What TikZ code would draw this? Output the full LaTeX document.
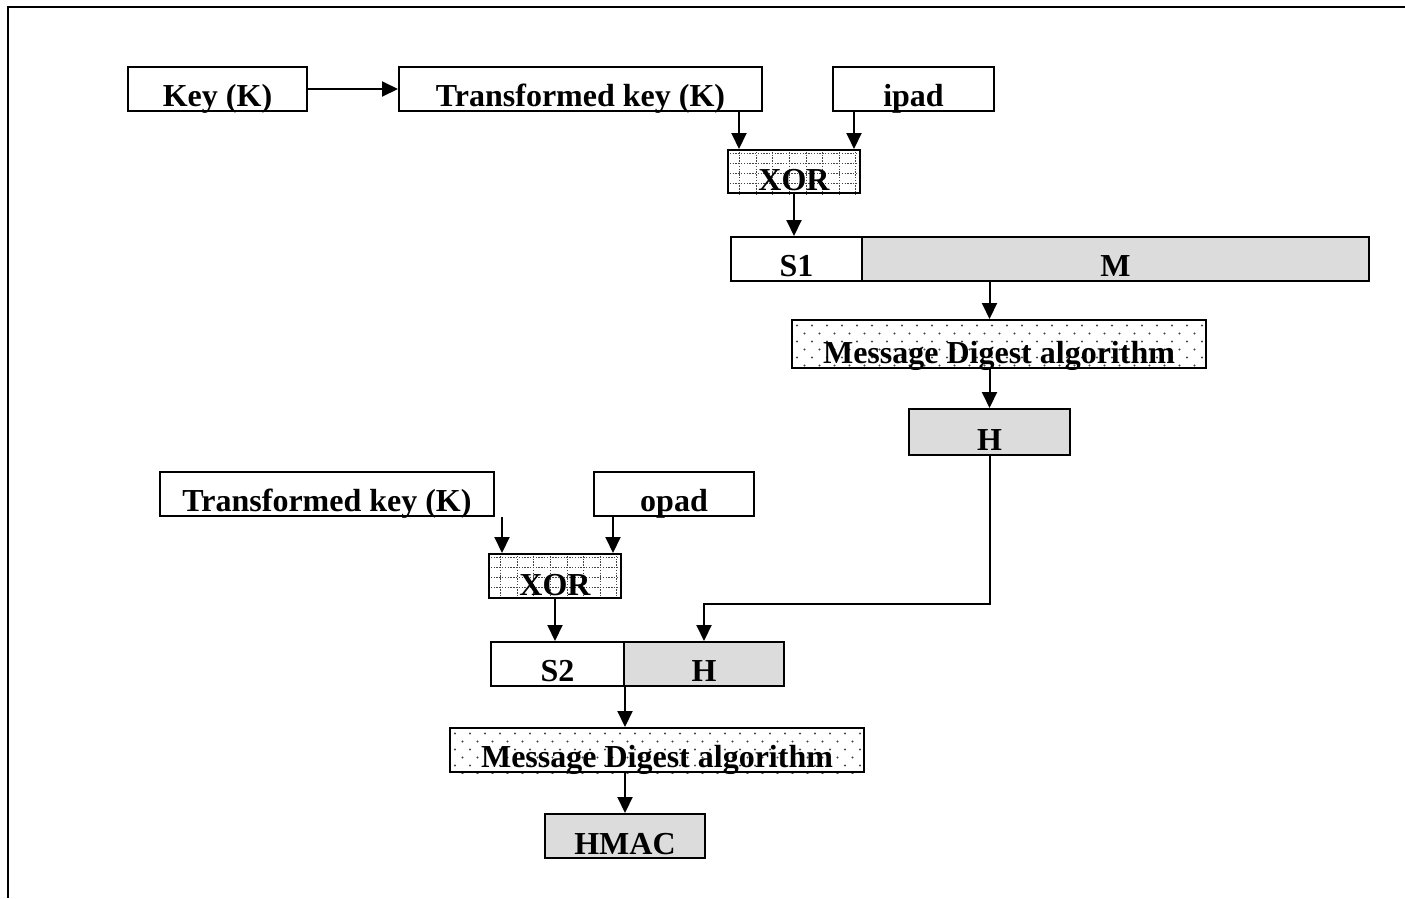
\documentclass[tikz,border=0pt]{standalone}
\usepackage{fontspec}
\setmainfont{Liberation Serif}
\usetikzlibrary{arrows.meta}
\definecolor{boxgray}{HTML}{DCDCDC}
\definecolor{dotgray}{HTML}{444444}
\pgfdeclarelayer{background}
\pgfsetlayers{background,main}
\tikzset{
  blk/.style={draw, line width=2pt, inner sep=0pt, align=center,
    font=\fontsize{32}{32}\selectfont\bfseries,
    text height=39pt, text depth=5pt},
  shaded/.style={fill=boxgray},
  arr/.style={line width=2pt, -{Triangle[length=16pt,width=15pt]}},
  griddot/.style={line width=1pt, dotgray, dash pattern=on 1.3pt off 1.5pt},
  frame/.style={line width=2.2pt}
}
\begin{document}
\begin{tikzpicture}[x=1pt,y=-1pt]
  \useasboundingbox (0,0) rectangle (1405,898);
  % outer frame, open towards the right and bottom
  \draw[frame] (8,898) -- (8,7) -- (1405,7);

  % ---- inner hash ----
  \node[blk, minimum width=179pt] (key)  at (217.5,89)  {Key (K)};
  \node[blk, minimum width=363pt] (tk1)  at (580.5,89)  {Transformed key (K)};
  \node[blk, minimum width=161pt] (ipad) at (913.5,89)  {ipad};
  \node[blk, minimum width=132pt, text height=40pt, text depth=3pt] (xor1) at (794,171.5) {XOR};
  \node[blk, minimum width=131pt] (s1)   at (796.5,259) {S1};
  \node[blk, shaded, minimum width=507pt] (m) at (1115.5,259) {M};
  \node[blk, minimum width=414pt, text height=43pt, text depth=5pt] (md1) at (999,344) {Message Digest algorithm};
  \node[blk, shaded, minimum width=161pt, text height=41.5pt, text depth=4.5pt] (h1) at (989.5,432) {H};

  % ---- outer hash ----
  \node[blk, minimum width=334pt] (tk2)  at (327,494)   {Transformed key (K)};
  \node[blk, minimum width=160pt] (opad) at (674,494)   {opad};
  \node[blk, minimum width=132pt, text height=41pt, text depth=3pt] (xor2) at (555,576) {XOR};
  \node[blk, minimum width=133pt] (s2)   at (557.5,664) {S2};
  \node[blk, shaded, minimum width=160pt] (h2) at (704,664) {H};
  \node[blk, minimum width=414pt] (md2)  at (657,750)   {Message Digest algorithm};
  \node[blk, shaded, minimum width=160pt, text height=40pt, text depth=4pt] (hmac) at (625,836) {HMAC};

  % ---- fill patterns behind the text ----
  \begin{pgfonlayer}{background}
    \foreach \n in {xor1,xor2} {
      \begin{scope}
        \clip (\n.south west) rectangle (\n.north east);
        \foreach \k in {0,...,7}
          \draw[griddot] ([xshift={12.7pt+16.6pt*\k}]\n.north west) -- ([xshift={12.7pt+16.6pt*\k}]\n.south west);
        \foreach \k in {0,...,3}
          \draw[griddot] ([yshift={-4.4pt-10pt*\k}]\n.north west) -- ([yshift={-4.4pt-10pt*\k}]\n.north east);
      \end{scope}
    }
    \foreach \n in {md1,md2} {
      \begin{scope}
        \clip (\n.south west) rectangle (\n.north east);
        \foreach \r in {0,...,5}
          \foreach \c in {0,...,28}
            \fill[dotgray] ([xshift={6pt+15pt*\c+7.5pt*mod(\r,2)}, yshift={-6.5pt-8pt*\r}]\n.north west) circle (1.2);
      \end{scope}
    }
  \end{pgfonlayer}

  % ---- connectors ----
  \draw[arr] (key.east) -- (tk1.west);
  \draw[arr] ([xshift=12pt]xor1.north west |- tk1.south) -- ([xshift=12pt]xor1.north west);
  \draw[arr] ([xshift=-7pt]xor1.north east |- ipad.south) -- ([xshift=-7pt]xor1.north east);
  \draw[arr] (xor1.south) -- (xor1.south |- s1.north);
  \draw[arr] (h1.north |- m.south) -- (h1.north |- md1.north);
  \draw[arr] (h1.north |- md1.south) -- (h1.north);
  \draw[arr] (h1.south) -- ++(0,148) -| (h2.north);

  \draw[arr] ([xshift=14pt]xor2.north west |- tk2.south) -- ([xshift=14pt]xor2.north west);
  \draw[arr] ([xshift=-9pt]xor2.north east |- opad.south) -- ([xshift=-9pt]xor2.north east);
  \draw[arr] (xor2.south) -- (xor2.south |- s2.north);
  \draw[arr] (s2.south east) -- (s2.south east |- md2.north);
  \draw[arr] (hmac.north |- md2.south) -- (hmac.north);
\end{tikzpicture}
\end{document}
